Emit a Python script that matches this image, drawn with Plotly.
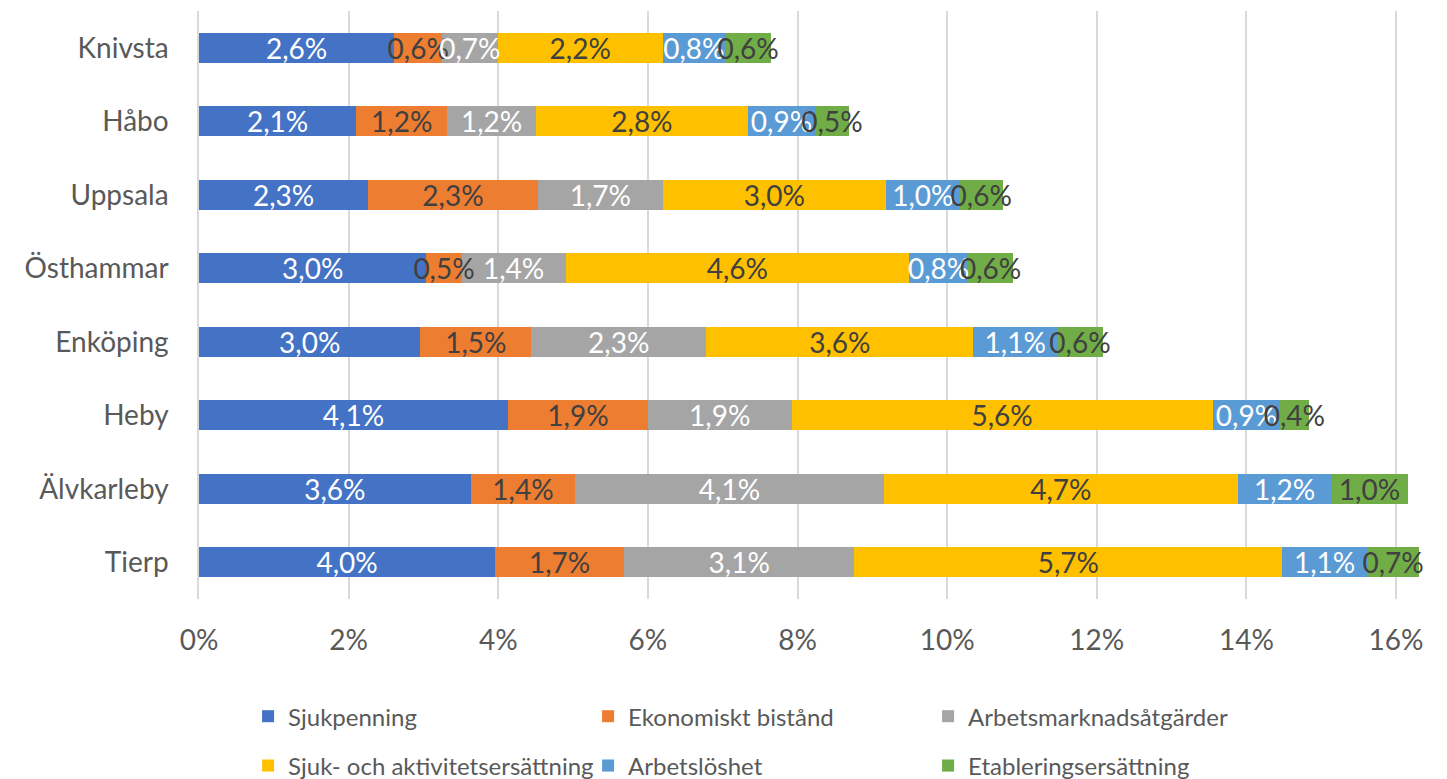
import plotly.graph_objects as go

# Kommuner, uppifrån och ned
kommuner = ["Knivsta", "Håbo", "Uppsala", "Östhammar", "Enköping", "Heby", "Älvkarleby", "Tierp"]

# Andel (%) per ersättningsslag
sjukpenning = [2.61, 2.10, 2.26, 3.04, 2.96, 4.13, 3.63, 3.96]
ekonomiskt_bistand = [0.64, 1.22, 2.27, 0.47, 1.48, 1.87, 1.40, 1.72]
arbetsmarknadsatgarder = [0.74, 1.18, 1.67, 1.39, 2.34, 1.92, 4.12, 3.08]
sjuk_aktivitet = [2.21, 2.84, 2.98, 4.59, 3.57, 5.63, 4.74, 5.72]
arbetsloshet = [0.83, 0.89, 0.99, 0.79, 1.12, 0.90, 1.24, 1.13]
etablering = [0.62, 0.46, 0.57, 0.60, 0.61, 0.38, 1.03, 0.70]

x_ticks = [0, 2, 4, 6, 8, 10, 12, 14, 16]
x_ticklabels = ["0%", "2%", "4%", "6%", "8%", "10%", "12%", "14%", "16%"]

series = [
    ("Sjukpenning", sjukpenning, "#4472C4", "white"),
    ("Ekonomiskt bistånd", ekonomiskt_bistand, "#ED7D31", "#404040"),
    ("Arbetsmarknadsåtgärder", arbetsmarknadsatgarder, "#A5A5A5", "white"),
    ("Sjuk- och aktivitetsersättning", sjuk_aktivitet, "#FFC000", "#404040"),
    ("Arbetslöshet", arbetsloshet, "#5B9BD5", "white"),
    ("Etableringsersättning", etablering, "#70AD47", "#404040"),
]

FONT = "Lato"

fig = go.Figure()

# the bars themselves
for i, (name, vals, col, tcol) in enumerate(series):
    fig.add_trace(go.Bar(
        y=kommuner, x=vals, name=name, orientation="h",
        marker=dict(color=col, line=dict(width=0)),
        legend="legend" if i < 3 else "legend2",
        hoverinfo="skip",
    ))

# transparent copies on an overlaying axis so labels sit above every bar
for name, vals, col, tcol in series:
    fig.add_trace(go.Bar(
        y=kommuner, x=vals, orientation="h", yaxis="y2",
        marker=dict(color="rgba(0,0,0,0)", line=dict(width=0)),
        text=vals, texttemplate="%{x:.1f}%", textposition="inside",
        insidetextanchor="middle", textangle=0, constraintext="none",
        textfont=dict(family=FONT, size=28, color=tcol),
        cliponaxis=False, showlegend=False, hoverinfo="skip",
    ))

legend_style = dict(
    orientation="h", x=0.04, xanchor="left", yanchor="middle",
    entrywidth=295, entrywidthmode="pixels",
    font=dict(family=FONT, size=24, color="#595959"), bgcolor="rgba(0,0,0,0)",
    traceorder="normal",
)

# page body has an 8px margin, so the figure is a bit smaller than the window
fig.update_layout(
    width=1439, height=771,
    barmode="stack", bargap=0.59,
    separators=",.",
    plot_bgcolor="white", paper_bgcolor="white",
    margin=dict(l=191, r=21, t=3, b=180, autoexpand=False),
    font=dict(family=FONT, size=28, color="#595959"),
    xaxis=dict(
        range=[0, 16.4], tickvals=x_ticks, ticktext=x_ticklabels,
        showgrid=True, gridcolor="#D9D9D9", gridwidth=1.5,
        zeroline=False, showline=False, ticks="", automargin=False,
        ticklabelstandoff=22,
        tickfont=dict(family=FONT, size=28, color="#595959"),
    ),
    yaxis=dict(
        autorange="reversed", showline=True, linecolor="#D9D9D9", linewidth=1.5,
        ticks="", ticklabelstandoff=23, automargin=False,
        tickfont=dict(family=FONT, size=28, color="#595959"),
    ),
    yaxis2=dict(overlaying="y", autorange="reversed", visible=False,
                categoryorder="array", categoryarray=kommuner),
    legend=dict(legend_style, y=-0.2),
    legend2=dict(legend_style, y=-0.284),
)

fig.write_html("out.html")
